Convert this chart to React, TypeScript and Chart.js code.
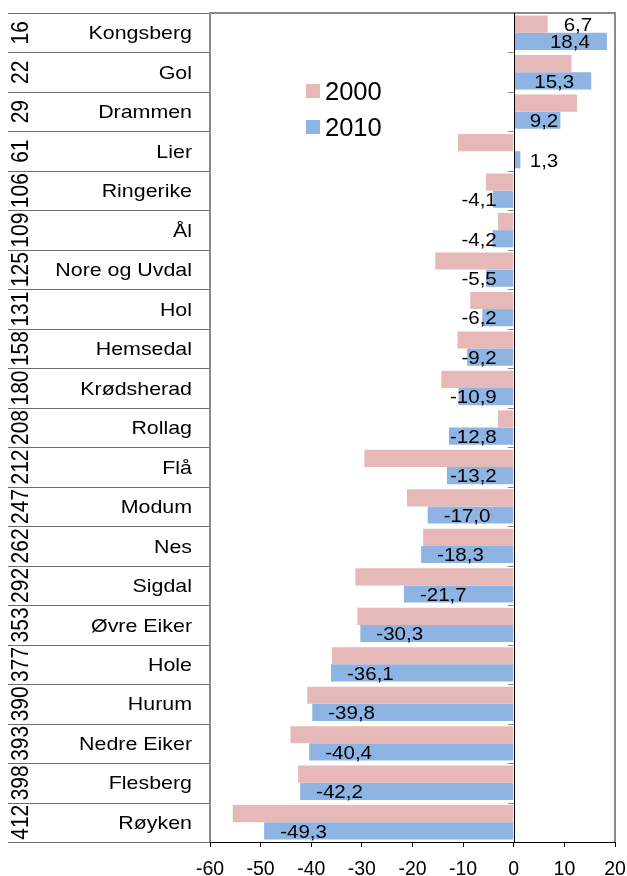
import React, { useEffect, useRef } from "react";
import { Chart, registerables } from "chart.js";

Chart.register(...registerables);

const categories = [
  "Kongsberg", "Gol", "Drammen", "Lier", "Ringerike", "Ål", "Nore og Uvdal", "Hol",
  "Hemsedal", "Krødsherad", "Rollag", "Flå", "Modum", "Nes", "Sigdal", "Øvre Eiker",
  "Hole", "Hurum", "Nedre Eiker", "Flesberg", "Røyken",
];
const ranks = [16, 22, 29, 61, 106, 109, 125, 131, 158, 180, 208, 212, 247, 262, 292, 353, 377, 390, 393, 398, 412];
const values2000 = [6.7, 11.4, 12.5, -11.0, -5.5, -3.1, -15.5, -8.6, -11.1, -14.3, -3.1, -29.5, -21.1, -17.9, -31.3, -30.9, -35.9, -40.8, -44.1, -42.6, -55.5];
const values2010 = [18.4, 15.3, 9.2, 1.3, -4.1, -4.2, -5.5, -6.2, -9.2, -10.9, -12.8, -13.2, -17.0, -18.3, -21.7, -30.3, -36.1, -39.8, -40.4, -42.2, -49.3];
const labeled2000 = ["Kongsberg"];
const seriesNames = ["2000", "2010"];
const xMin = -60;
const xMax = 20;
const xStep = 10;

const FONT = "'Liberation Sans', Arial, Helvetica, sans-serif";
const PINK = "#E6B9B8";
const BLUE = "#8EB4E3";

const fmt = (v: number) => v.toFixed(1).replace(".", ",");

const customDraw = {
  id: "customDraw",
  afterDatasetsDraw(chart: any) {
    const { ctx, chartArea, scales } = chart;
    const xs = scales.x;
    const ys = scales.y;
    const n = categories.length;
    const step = (chartArea.bottom - chartArea.top) / n;
    const zero = xs.getPixelForValue(0);

    ctx.save();
    // left label table lines
    ctx.strokeStyle = "#6b6b6b";
    ctx.lineWidth = 1;
    for (let i = 0; i <= n; i++) {
      const y = Math.round(ys.getPixelForValue(i) - step / 2) + 0.5;
      ctx.beginPath();
      ctx.moveTo(8, y);
      ctx.lineTo(chartArea.left, y);
      ctx.stroke();
    }
    // small ticks on zero line
    ctx.strokeStyle = "#888";
    for (let i = 1; i < n; i++) {
      const y = Math.round(ys.getPixelForValue(i) - step / 2) + 0.5;
      ctx.beginPath();
      ctx.moveTo(zero - 6, y);
      ctx.lineTo(zero, y);
      ctx.stroke();
    }
    // plot border (left, top, right)
    ctx.strokeStyle = "#8a8a8a";
    ctx.lineWidth = 2;
    ctx.beginPath();
    ctx.moveTo(chartArea.left, chartArea.bottom);
    ctx.lineTo(chartArea.left, chartArea.top);
    ctx.lineTo(chartArea.right, chartArea.top);
    ctx.lineTo(chartArea.right, chartArea.bottom);
    ctx.stroke();
    // zero line
    ctx.strokeStyle = "#000";
    ctx.lineWidth = 1;
    ctx.beginPath();
    ctx.moveTo(Math.round(zero) + 0.5, chartArea.top);
    ctx.lineTo(Math.round(zero) + 0.5, chartArea.bottom);
    ctx.stroke();

    // category names and ranks
    ctx.fillStyle = "#000";
    const nameSize = 18.6;
    const rankSize = 21;
    for (let i = 0; i < n; i++) {
      const cy = ys.getPixelForValue(i);
      ctx.save();
      ctx.font = `${nameSize}px ${FONT}`;
      ctx.textAlign = "right";
      ctx.textBaseline = "alphabetic";
      ctx.translate(192, cy + nameSize * 0.358);
      ctx.scale(1.15, 1);
      ctx.fillText(categories[i], 0, 0);
      ctx.restore();

      ctx.save();
      ctx.font = `${rankSize}px ${FONT}`;
      ctx.textAlign = "center";
      ctx.textBaseline = "alphabetic";
      ctx.translate(28, cy);
      ctx.scale(1.18, 1);
      ctx.rotate(-Math.PI / 2);
      ctx.fillText(String(ranks[i]), 0, 0);
      ctx.restore();
    }

    // data labels
    const lblSize = 19;
    ctx.font = `${lblSize}px ${FONT}`;
    ctx.textBaseline = "alphabetic";
    ctx.textAlign = "left";
    [0, 1].forEach((d) => {
      const meta = chart.getDatasetMeta(d);
      const vals = d === 0 ? values2000 : values2010;
      meta.data.forEach((bar: any, i: number) => {
        if (d === 0 && !labeled2000.includes(categories[i])) return;
        const v = vals[i];
        const txt = fmt(v);
        const w = ctx.measureText(txt).width * 1.08;
        let left: number;
        if (d === 0) {
          left = v >= 0 ? bar.x + 16 : bar.x - 16 - w;
        } else if (v >= 0) {
          left = bar.x - 17 - w;
          if (left < zero + 16) left = zero + 16;
        } else {
          left = bar.x + 16;
          if (left + w > zero - 17) left = zero - 17 - w;
        }
        ctx.save();
        ctx.translate(left, bar.y + lblSize * 0.358);
        ctx.scale(1.08, 1);
        ctx.fillText(txt, 0, 0);
        ctx.restore();
      });
    });

    // legend
    const colors = [PINK, BLUE];
    const legY = [91, 127];
    ctx.font = `25.5px ${FONT}`;
    ctx.textAlign = "left";
    seriesNames.forEach((s, k) => {
      ctx.fillStyle = colors[k];
      ctx.fillRect(306, legY[k] - 7, 14, 14);
      ctx.fillStyle = "#000";
      ctx.fillText(s, 325, legY[k] + 25.5 * 0.358);
    });
    ctx.restore();
  },
};

export default function App() {
  const ref = useRef<HTMLCanvasElement>(null);
  useEffect(() => {
    if (!ref.current) return;
    const chart = new Chart(ref.current, {
      type: "bar",
      data: {
        labels: categories,
        datasets: [
          { label: seriesNames[0], data: values2000, backgroundColor: PINK, categoryPercentage: 0.87, barPercentage: 1 },
          { label: seriesNames[1], data: values2010, backgroundColor: BLUE, categoryPercentage: 0.87, barPercentage: 1 },
        ],
      },
      options: {
        indexAxis: "y",
        responsive: true,
        maintainAspectRatio: false,
        animation: false,
        layout: { padding: { top: 13, right: 0, left: 0, bottom: 0 } },
        plugins: { legend: { display: false }, tooltip: { enabled: false } },
        scales: {
          x: {
            type: "linear",
            min: xMin,
            max: xMax,
            ticks: { stepSize: xStep, color: "#000", font: { family: FONT, size: 19.5 }, padding: 11 },
            grid: { display: true, drawOnChartArea: false, drawTicks: true, tickLength: 5, color: "#000" },
            border: { display: true, color: "#000", width: 1 },
            afterFit: (s: any) => { s.height = 34; s.paddingRight = 12; },
          },
          y: {
            type: "category",
            ticks: { display: false },
            grid: { display: false },
            border: { display: false },
            afterFit: (s: any) => { s.width = 210; },
          },
        },
      },
      plugins: [customDraw],
    } as any);
    return () => chart.destroy();
  }, []);
  return (
    <div style={{ position: "fixed", left: 0, top: 0, width: 627, height: 876, background: "#fff" }}>
      <canvas ref={ref} />
    </div>
  );
}
